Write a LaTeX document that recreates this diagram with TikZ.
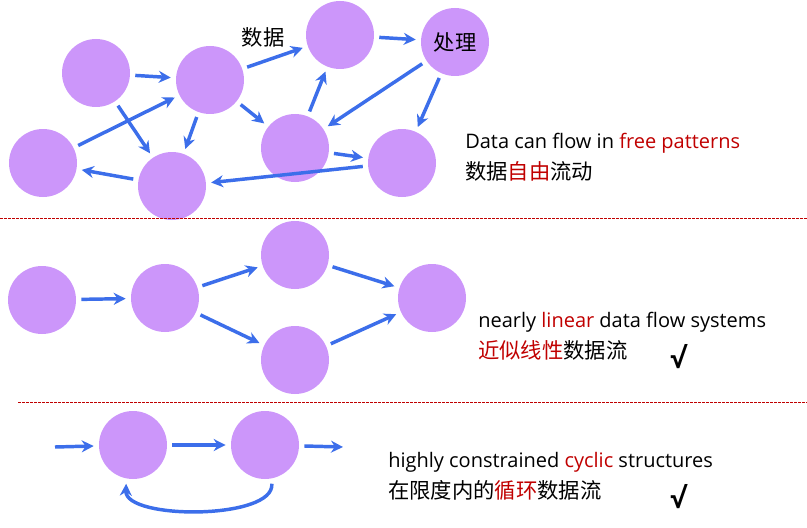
\documentclass[tikz,border=0pt]{standalone}
\usepackage{fontspec}
\setmainfont{Open Sans}
\newfontfamily\cjk{Noto Sans CJK SC}
\usetikzlibrary{arrows.meta}
\definecolor{vio}{HTML}{CC96FA}
\definecolor{arr}{HTML}{3C6EEA}
\definecolor{rd}{HTML}{C00000}
\begin{document}
\begin{tikzpicture}[x=0.75pt,y=-0.75pt,
  ball/.style={circle,fill=vio,minimum size=51pt,inner sep=0pt,outer sep=4pt},
  ar/.style={arr,line width=2.6pt,-{Stealth[length=9pt,width=9pt]}},
  sep/.style={rd,dashed,line width=0.5pt,dash pattern=on 2pt off 1pt},
  txt/.style={anchor=west,inner sep=0pt,font=\fontsize{15}{17}\selectfont},
  ctxt/.style={anchor=west,inner sep=0pt,font=\cjk\fontsize{16}{18}\selectfont}]
\useasboundingbox (0,0) rectangle (807,528);
% top
\node[ball] (A) at (96,73) {};
\node[ball] (B) at (210,80) {};
\node[ball] (C) at (340,35) {};
\node[ball,font=\cjk\fontsize{16}{18}\selectfont] (D) at (455,42) {处理};
\node[ball] (E) at (43,163) {};
\node[ball] (F) at (172,186) {};
\node[ball] (G) at (295,148) {};
\node[ball] (H) at (402,163) {};
\node[font=\cjk\fontsize{16}{18}\selectfont,inner sep=0pt] (lab) at (263,37) {数据};
\draw[ar] (A) -- (B);
\draw[ar] (A) -- (F);
\draw[ar] (E) -- (B);
\draw[ar] (B) -- (F);
\draw[ar] (B) -- (C);
\draw[ar] (B) -- (G);
\draw[ar] (C) -- (D);
\draw[ar] (D) -- (G);
\draw[ar] (D) -- (H);
\draw[ar] (G) -- (C);
\draw[ar] (G) -- (H);
\draw[ar] (H.185) -- (F.5);
\draw[ar] (F) -- (E);
\node[txt] (t1) at (465,143) {Data can flow in \textcolor{rd}{free patterns}};
\node[ctxt] (t1c) at (465,171) {数据\textcolor{rd}{自由}流动};
\coordinate (s1a) at (0,218); \coordinate (s1b) at (807,218);
\draw[sep] (s1a) -- (s1b);
% middle
\node[ball] (I) at (42,300) {};
\node[ball] (J) at (165,298) {};
\node[ball] (K) at (295,255) {};
\node[ball] (L) at (432,298) {};
\node[ball] (M) at (295,360) {};
\draw[ar] (I) -- (J);
\draw[ar] (J) -- (K);
\draw[ar] (J) -- (M);
\draw[ar] (K) -- (L);
\draw[ar] (M) -- (L);
\node[txt] (t2) at (478,322) {nearly \textcolor{rd}{linear} data flow systems};
\node[ctxt] (t2c) at (478,350) {\textcolor{rd}{近似线性}数据流};
\node[font=\fontsize{21}{23}\selectfont\bfseries] (ck1) at (678,357) {√};
\coordinate (s2a) at (18,402); \coordinate (s2b) at (807,402);
\draw[sep] (s2a) -- (s2b);
% bottom
\node[ball] (N) at (133,445) {};
\node[ball] (O) at (265,445) {};
\coordinate (in) at (55,447);
\coordinate (out) at (343,447);
\draw[ar] (in) -- (N);
\draw[ar] (N) -- (O);
\draw[ar] (O) -- (out);
\draw[ar] (O.-80) .. controls (275,520) and (125,520) .. (N.-100);
\node[txt] (t3) at (388,462) {highly constrained \textcolor{rd}{cyclic} structures};
\node[ctxt] (t3c) at (388,490) {在限度内的\textcolor{rd}{循环}数据流};
\node[font=\fontsize{21}{23}\selectfont\bfseries] (ck2) at (678,497) {√};
\end{tikzpicture}
\end{document}
